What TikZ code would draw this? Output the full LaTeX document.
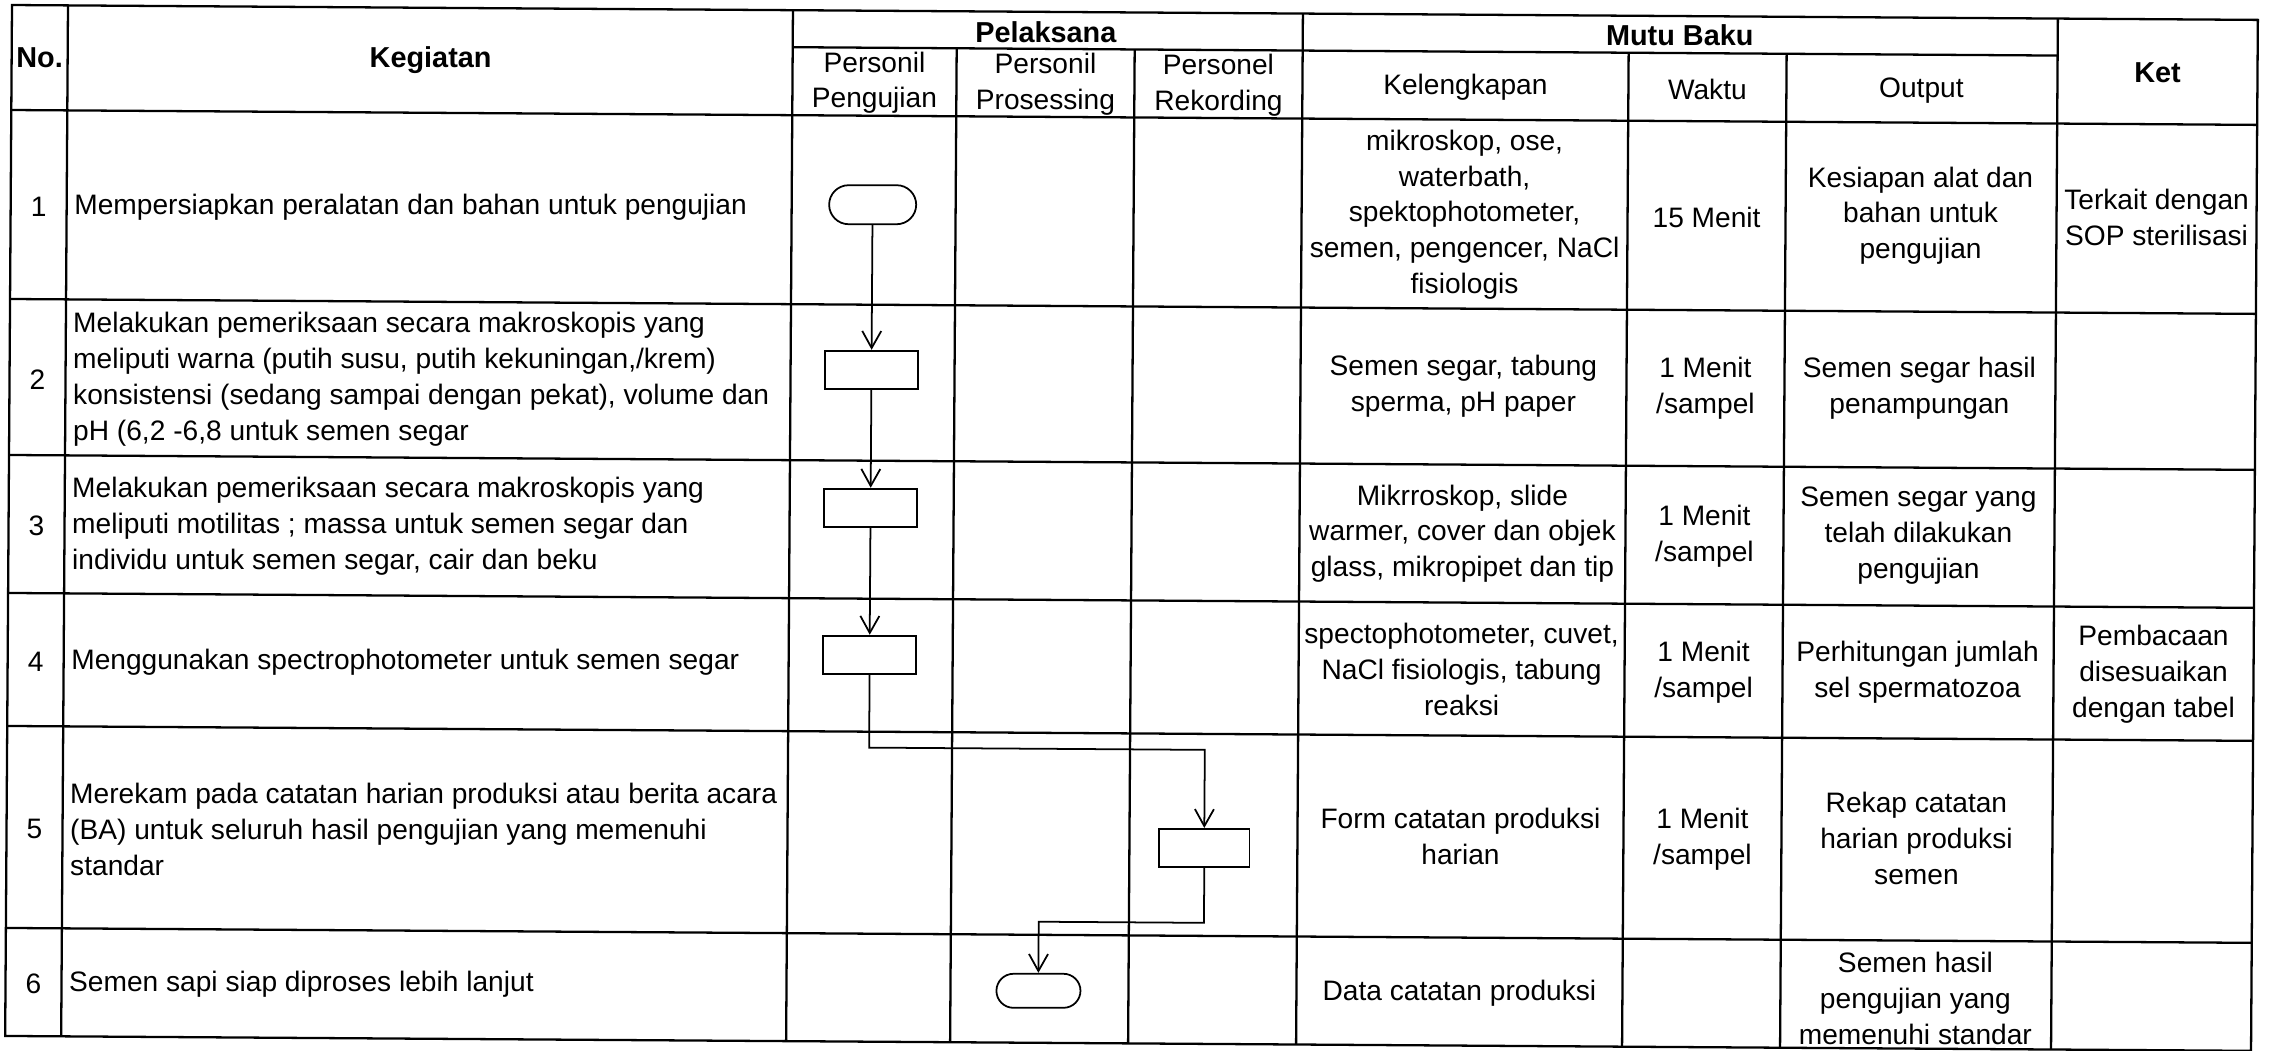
\documentclass[tikz,border=0pt]{standalone}
\usepackage{fontspec}
\setmainfont{Liberation Sans}
\usetikzlibrary{arrows.meta,shapes.misc}

\tikzset{
  grid/.style={line width=0.65pt},
  term/.style={draw, rounded rectangle, minimum width=0.87cm, minimum height=0.39cm, inner sep=0pt, line width=0.5pt},
  box/.style={draw, rectangle, minimum width=0.93cm, minimum height=0.38cm, inner sep=0pt, line width=0.5pt},
  flow/.style={-{Straight Barb[length=1.7mm,width=1.9mm]}, line width=0.5pt},
  hd/.style={font=\bfseries\fontsize{8.2}{10}\selectfont, align=center, inner sep=0pt},
  txt/.style={font=\fontsize{8}{10.2}\selectfont, align=center, inner sep=0pt},
  act/.style={txt, align=left, anchor=west},
}

\begin{document}
\begin{tikzpicture}[x=0.01cm, y=-0.01cm]
\useasboundingbox (0,0) rectangle (2271,1050);
\begin{scope}[rotate around={-0.38:(12,5)}]
\draw[grid] (12,5) rectangle (2258,1036);
\draw[grid] (68,5) -- (68,1036);
\draw[grid] (793,5) -- (793,1036);
\draw[grid] (957,42) -- (957,1036);
\draw[grid] (1135,42) -- (1135,1036);
\draw[grid] (1303,5) -- (1303,1036);
\draw[grid] (1629,42) -- (1629,1036);
\draw[grid] (1787,42) -- (1787,1036);
\draw[grid] (2058,5) -- (2058,1036);
\draw[grid] (793,42) -- (2058,42);
\foreach \y in {110,299,455,593,726,928}
  \draw[grid] (12,\y) -- (2258,\y);
\node[hd] (hno) at (40,58) {No.};
\node[hd] (hkeg) at (431,57) {Kegiatan};
\node[hd] (hpel) at (1046,25) {Pelaksana};
\node[txt] (hp1) at (875,77) {Personil\\Pengujian};
\node[txt] (hp2) at (1046,77) {Personil\\Prosessing};
\node[txt] (hp3) at (1219,77) {Personel\\Rekording};
\node[hd] (hmutu) at (1680,24) {Mutu Baku};
\node[txt] (hkel) at (1466,78) {Kelengkapan};
\node[txt] (hwak) at (1708,78) {Waktu};
\node[txt] (hout) at (1922,78) {Output};
\node[hd] (hket) at (2158,58) {Ket};
\node[txt] (n1) at (40,207) {1};
\node[txt] (n2) at (40,379) {2};
\node[txt] (n3) at (40,526) {3};
\node[txt] (n4) at (40,662) {4};
\node[txt] (n5) at (40,829) {5};
\node[txt] (n6) at (40,984) {6};
\node[act] (k1) at (75,207) {Mempersiapkan peralatan dan bahan untuk pengujian};
\node[act] (k2) at (75,379) {Melakukan pemeriksaan secara makroskopis yang\\meliputi warna (putih susu, putih kekuningan,/krem)\\konsistensi (sedang sampai dengan pekat), volume dan\\pH (6,2 -6,8 untuk semen segar};
\node[act] (k3) at (75,526) {Melakukan pemeriksaan secara makroskopis yang\\meliputi motilitas ; massa untuk semen segar dan\\individu untuk semen segar, cair dan beku};
\node[act] (k4) at (75,662) {Menggunakan spectrophotometer untuk semen segar};
\node[act] (k5) at (75,829) {Merekam pada catatan harian produksi atau berita acara\\(BA) untuk seluruh hasil pengujian yang memenuhi\\standar};
\node[act] (k6) at (75,984) {Semen sapi siap diproses lebih lanjut};
\node[txt] (l1) at (1466,205) {mikroskop, ose,\\waterbath,\\spektophotometer,\\semen, pengencer, NaCl\\fisiologis};
\node[txt] (l2) at (1466,377) {Semen segar, tabung\\sperma, pH paper};
\node[txt] (l3) at (1466,524) {Mikrroskop, slide\\warmer, cover dan objek\\glass, mikropipet dan tip};
\node[txt] (l4) at (1466,660) {spectophotometer, cuvet,\\NaCl fisiologis, tabung\\reaksi};
\node[txt] (l5) at (1466,827) {Form catatan produksi\\harian};
\node[txt] (l6) at (1466,984) {Data catatan produksi};
\node[txt] (w1) at (1708,206) {15 Menit};
\node[txt] (w2) at (1708,377) {1 Menit\\/sampel};
\node[txt] (w3) at (1708,525) {1 Menit\\/sampel};
\node[txt] (w4) at (1708,661) {1 Menit\\/sampel};
\node[txt] (w5) at (1708,828) {1 Menit\\/sampel};
\node[txt] (o1) at (1922,203) {Kesiapan alat dan\\bahan untuk\\pengujian};
\node[txt] (o2) at (1922,376) {Semen segar hasil\\penampungan};
\node[txt] (o3) at (1922,523) {Semen segar yang\\telah dilakukan\\pengujian};
\node[txt] (o4) at (1922,660) {Perhitungan jumlah\\sel spermatozoa};
\node[txt] (o5) at (1922,826) {Rekap catatan\\harian produksi\\semen};
\node[txt] (o6) at (1922,986) {Semen hasil\\pengujian yang\\memenuhi standar};
\node[txt] (c1) at (2158,203) {Terkait dengan\\SOP sterilisasi};
\node[txt] (c4) at (2158,660) {Pembacaan\\disesuaikan\\dengan tabel};
\node[term] (t1) at (874,199) {};
\node[box] (b2) at (874,364) {};
\node[box] (b3) at (874,502) {};
\node[box] (b4) at (874,649) {};
\node[box, minimum width=0.9cm] (b5) at (1210,840) {};
\node[term, minimum width=0.84cm, minimum height=0.34cm] (t6) at (1045,984) {};
\coordinate (j1) at (1000,742);
\coordinate (j2) at (1100,915);
\draw[flow] (t1) -- (b2);
\draw[flow] (b2) -- (b3);
\draw[flow] (b3) -- (b4);
\draw[flow] (b4.south) |- (j1) -| (b5.north);
\draw[flow] (b5.south) |- (j2) -| (t6.north);
\end{scope}
\end{tikzpicture}
\end{document}
